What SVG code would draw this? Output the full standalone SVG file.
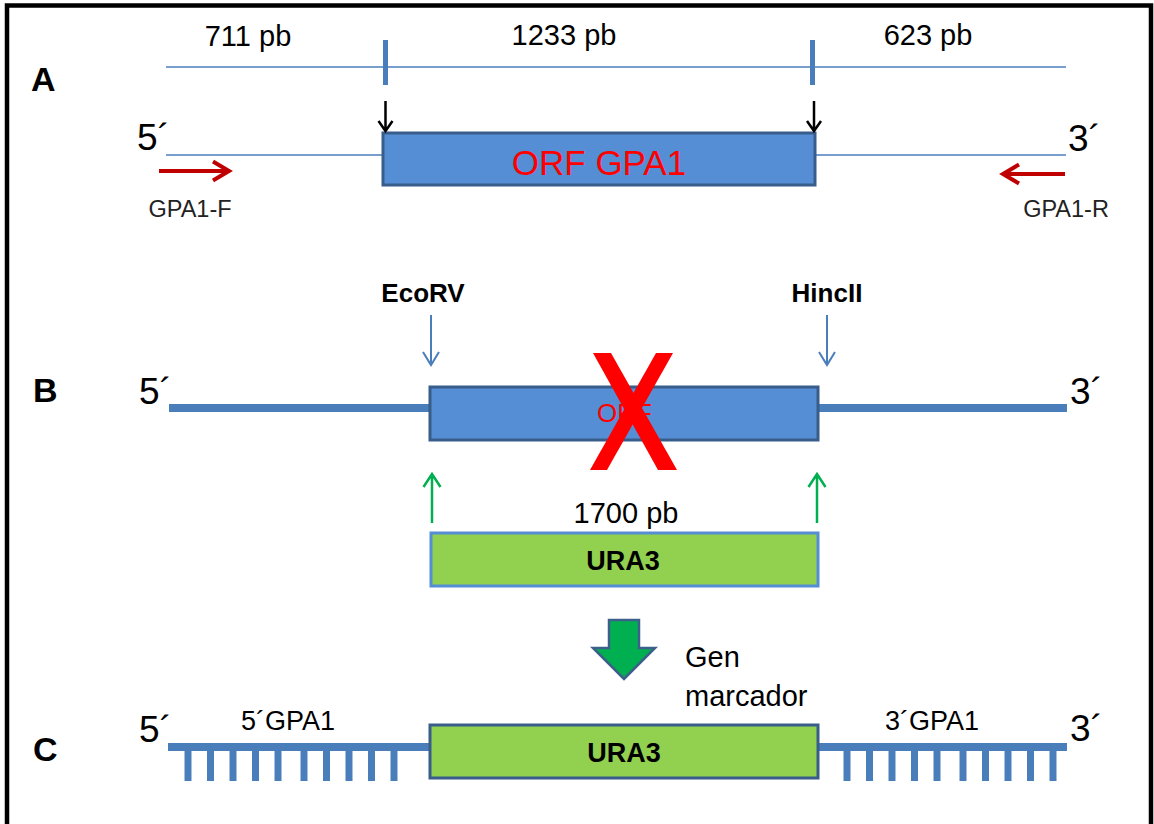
<svg xmlns="http://www.w3.org/2000/svg" width="1154" height="824" viewBox="0 0 1154 824">
<defs>
<style>
.t{font-family:"Liberation Sans",Arial,sans-serif;fill:#000}
.b{font-weight:bold}
.thin{stroke:#4a7ebb;stroke-width:1.5;fill:none}
.thick{stroke:#4a7ebb;stroke-width:8;fill:none}
.tick{stroke:#4a7ebb;stroke-width:5}
.tooth{stroke:#4a7ebb;stroke-width:7}
.orf{fill:#558ed5;stroke:#385d8a;stroke-width:3}
.ura{fill:#92d050;stroke-width:3}
.blk{stroke:#000;stroke-width:2.5;fill:none}
.red{stroke:#c00000;stroke-width:4;fill:none}
.blu{stroke:#4a7ebb;stroke-width:2;fill:none}
.grn{stroke:#00b050;stroke-width:2.5;fill:none}
</style>
</defs>
<rect width="1154" height="824" fill="#fff"/>
<path d="M7 830 V5.5 H1151 V830" fill="none" stroke="#000" stroke-width="4.5"/>

<g id="labels">
<text class="t b" x="31" y="91" font-size="34">A</text>
<text class="t b" x="33" y="402" font-size="34">B</text>
<text class="t b" x="33" y="761" font-size="34">C</text>
</g>

<g id="sectionA">
<line class="thin" x1="166" y1="67" x2="1066" y2="67"/>
<line class="tick" x1="385.5" y1="40" x2="385.5" y2="85"/>
<line class="tick" x1="812.5" y1="40" x2="812.5" y2="85"/>
<text class="t" x="248" y="46" font-size="29" text-anchor="middle">711 pb</text>
<text class="t" x="564" y="45" font-size="29" text-anchor="middle">1233 pb</text>
<text class="t" x="928" y="45" font-size="29" text-anchor="middle">623 pb</text>
<text class="t" x="137" y="150" font-size="37">5´</text>
<text class="t" x="1068" y="151" font-size="37">3´</text>
<line class="thin" x1="166" y1="155" x2="1066" y2="155"/>
<g id="orfA">
<rect class="orf" x="383" y="133" width="432" height="52"/>
<text class="t" x="599" y="175" font-size="35" text-anchor="middle" fill="#ff0000" style="fill:#ff0000">ORF GPA1</text>
</g>
<text class="t" x="190" y="217" font-size="23.5" text-anchor="middle" style="fill:#222">GPA1-F</text>
<text class="t" x="1066" y="217" font-size="23.5" text-anchor="middle" style="fill:#222">GPA1-R</text>
</g>

<g id="sectionB">
<line class="thick" x1="169" y1="408" x2="430" y2="408"/>
<line class="thick" x1="818" y1="408" x2="1067" y2="408"/>
<text class="t" x="139" y="404" font-size="37">5´</text>
<text class="t" x="1070" y="404" font-size="37">3´</text>
<text class="t b" x="423" y="302" font-size="26" text-anchor="middle">EcoRV</text>
<text class="t b" x="827" y="302" font-size="26" text-anchor="middle">HincII</text>
<g id="orfB">
<rect class="orf" x="430" y="387" width="388" height="53"/>
<text class="t" x="597" y="422" font-size="26" style="fill:#ff0000">ORF</text>
</g>
<g id="crossX" fill="#ff0000">
<polygon points="593,353 611,353 677,470 658,470"/>
<polygon points="656,353 673,353 607,470 590,470"/>
</g>
<text class="t" x="626" y="523" font-size="29" text-anchor="middle">1700 pb</text>
<g id="ura3B">
<rect class="ura" x="431" y="533" width="387" height="53" stroke="#558ed5"/>
<text class="t b" x="623" y="570" font-size="27" text-anchor="middle">URA3</text>
</g>
</g>

<g id="blockArrow">
<polygon points="609,620 639,620 639,648 655,648 624,679 593,648 609,648" fill="#00b050" stroke="#3d5f8a" stroke-width="2.5" stroke-linejoin="miter"/>
<text class="t" x="685" y="667" font-size="29">Gen</text>
<text class="t" x="685" y="706" font-size="29">marcador</text>
</g>

<g id="sectionC">
<line class="thick" x1="168" y1="747" x2="430" y2="747"/>
<line class="thick" x1="818" y1="747" x2="1067" y2="747"/>
<g id="teethLeft">
<line class="tooth" x1="188" y1="747" x2="188" y2="781"/>
<line class="tooth" x1="210.5" y1="747" x2="210.5" y2="781"/>
<line class="tooth" x1="233" y1="747" x2="233" y2="781"/>
<line class="tooth" x1="255.5" y1="747" x2="255.5" y2="781"/>
<line class="tooth" x1="278" y1="747" x2="278" y2="781"/>
<line class="tooth" x1="304" y1="747" x2="304" y2="781"/>
<line class="tooth" x1="326.5" y1="747" x2="326.5" y2="781"/>
<line class="tooth" x1="349" y1="747" x2="349" y2="781"/>
<line class="tooth" x1="371.5" y1="747" x2="371.5" y2="781"/>
<line class="tooth" x1="394" y1="747" x2="394" y2="781"/>
</g>
<g id="teethRight">
<line class="tooth" x1="847" y1="747" x2="847" y2="781"/>
<line class="tooth" x1="869.5" y1="747" x2="869.5" y2="781"/>
<line class="tooth" x1="892" y1="747" x2="892" y2="781"/>
<line class="tooth" x1="914.5" y1="747" x2="914.5" y2="781"/>
<line class="tooth" x1="937" y1="747" x2="937" y2="781"/>
<line class="tooth" x1="963" y1="747" x2="963" y2="781"/>
<line class="tooth" x1="985.5" y1="747" x2="985.5" y2="781"/>
<line class="tooth" x1="1008" y1="747" x2="1008" y2="781"/>
<line class="tooth" x1="1030.5" y1="747" x2="1030.5" y2="781"/>
<line class="tooth" x1="1053" y1="747" x2="1053" y2="781"/>
</g>
<text class="t" x="139" y="742" font-size="37">5´</text>
<text class="t" x="1070" y="741" font-size="37">3´</text>
<text class="t" x="288" y="730" font-size="27" text-anchor="middle">5´GPA1</text>
<text class="t" x="932" y="730" font-size="27" text-anchor="middle">3´GPA1</text>
<g id="ura3C">
<rect class="ura" x="430" y="725" width="388" height="53" stroke="#385d8a"/>
<text class="t b" x="624" y="762" font-size="27" text-anchor="middle">URA3</text>
</g>
</g>

<g id="connectors">
<path class="blk" d="M385.5 101 V131 M378.5 121 L385.5 131 L392.5 121"/>
<path class="blk" d="M814 101 V131 M807 121 L814 131 L821 121"/>
<path class="red" d="M159 171 H229 M213 161.5 L229 171 L213 180.5"/>
<path class="red" d="M1065 174 H1003 M1019 164.5 L1003 174 L1019 183.5"/>
<path class="blu" d="M431 315 V365 M423 352 L431 365 L439 352"/>
<path class="blu" d="M827 315 V365 M819 352 L827 365 L835 352"/>
<path class="grn" d="M432 523 V474 M423.5 487 L432 474 L440.5 487"/>
<path class="grn" d="M817 523 V474 M808.5 487 L817 474 L825.5 487"/>
</g>
</svg>
